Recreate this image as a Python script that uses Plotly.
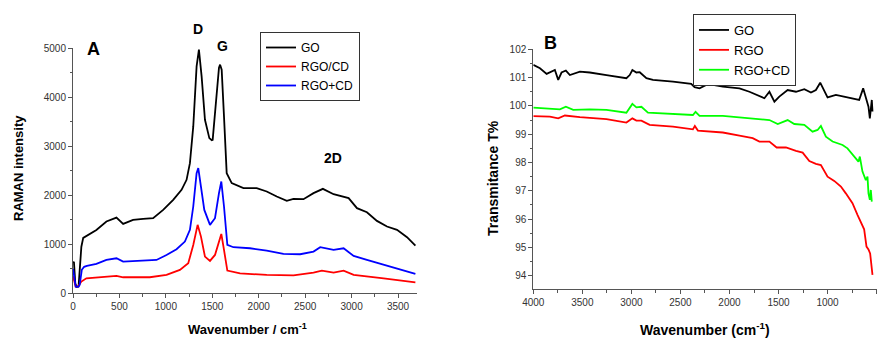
import plotly.graph_objects as go

# ---------------- Panel A: Raman ----------------
raman_go_x = [0, 10, 25, 40, 60, 75, 90, 110, 150, 252, 360, 468, 540, 647, 755, 863, 971, 1079,
              1169, 1223, 1259, 1295, 1331, 1356, 1385, 1421, 1468, 1494, 1504, 1540, 1572, 1584, 1601,
              1626, 1655, 1709, 1835, 1978, 2086, 2194, 2302, 2374, 2482, 2590, 2691, 2806, 2914,
              2968, 3058, 3165, 3273, 3381, 3489, 3597, 3687]
raman_go_y = [620, 640, 200, 130, 140, 600, 950, 1130, 1180, 1292, 1463, 1544, 1415, 1497, 1517, 1530,
              1700, 1905, 2109, 2313, 2653, 3401, 4626, 4966, 4422, 3537, 3163, 3122, 3129, 3946, 4600,
              4660, 4558, 3605, 2449, 2245, 2143, 2143, 2075, 1973, 1884, 1925, 1918, 2041, 2129,
              2020, 1973, 1939, 1735, 1653, 1476, 1361, 1293, 1143, 973]

raman_rgocd_x = [0, 15, 29, 55, 90, 144, 288, 468, 540, 827, 1007, 1151, 1241, 1295, 1342, 1378,
                 1421, 1475, 1529, 1572, 1597, 1626, 1662, 1799, 2086, 2374, 2590, 2680, 2806,
                 2914, 3022, 3345, 3687]
raman_rgocd_y = [350, 230, 136, 140, 238, 306, 327, 354, 327, 327, 374, 476, 612, 986, 1395, 1156,
                 748, 660, 782, 1088, 1211, 884, 463, 408, 374, 367, 422, 463, 422, 463, 374,
                 306, 224]

raman_rgopcd_x = [0, 15, 29, 55, 72, 95, 120, 150, 252, 360, 468, 540, 719, 899, 1007, 1115, 1205,
                  1259, 1295, 1331, 1349, 1378, 1414, 1475, 1529, 1572, 1597, 1626, 1662, 1727,
                  1906, 2086, 2266, 2446, 2590, 2662, 2806, 2914, 3022, 3165, 3345, 3525, 3687]
raman_rgopcd_y = [500, 250, 136, 130, 170, 480, 540, 560, 599, 680, 714, 646, 667, 680, 782, 898,
                  1054, 1293, 1769, 2449, 2551, 2177, 1700, 1395, 1530, 2041, 2279, 1769, 986,
                  939, 918, 871, 803, 796, 850, 939, 884, 918, 762, 680, 578, 490, 395]

raman_names = ["GO", "RGO/CD", "RGO+CD"]
raman_colors = ["#000000", "#ff0000", "#0000ff"]

# ---------------- Panel B: FTIR ----------------
ftir_go_x = [4000, 3932, 3864, 3814, 3780, 3746, 3712, 3668, 3627, 3525, 3424, 3254, 3051, 3017,
             2990, 2949, 2915, 2847, 2780, 2576, 2390, 2356, 2305, 2237, 2169, 2068, 1898, 1797,
             1695, 1644, 1593, 1542, 1492, 1407, 1322, 1237, 1169, 1119, 1075, 1051, 1000, 915,
             831, 746, 678, 637, 610, 583, 569, 549, 542]
ftir_go_y = [101.45, 101.33, 101.13, 101.21, 101.27, 100.92, 101.18, 101.25, 101.09, 101.21, 101.18,
             101.09, 100.98, 101.09, 101.27, 101.18, 101.19, 100.98, 100.92, 100.86, 100.78, 100.66,
             100.62, 100.74, 100.74, 100.68, 100.62, 100.50, 100.33, 100.27, 100.50, 100.15, 100.33,
             100.56, 100.50, 100.59, 100.47, 100.56, 100.82, 100.66, 100.30, 100.39, 100.33, 100.27,
             100.21, 100.62, 100.33, 99.97, 99.56, 100.21, 99.80]

ftir_rgo_x = [4000, 3831, 3746, 3678, 3525, 3254, 3051, 2990, 2949, 2898, 2814, 2576, 2373, 2353,
              2322, 2068, 1898, 1763, 1695, 1593, 1519, 1424, 1322, 1254, 1186, 1119, 1068, 1000,
              932, 864, 814, 746, 695, 651, 627, 603, 583, 566, 553, 542]
ftir_rgo_y = [99.64, 99.62, 99.56, 99.66, 99.60, 99.53, 99.41, 99.56, 99.48, 99.48, 99.33, 99.27,
              99.17, 99.29, 99.13, 99.06, 98.95, 98.86, 98.74, 98.74, 98.53, 98.53, 98.41, 98.35,
              98.05, 97.95, 97.91, 97.50, 97.35, 97.15, 96.91, 96.56, 96.15, 95.79, 95.64, 95.03,
              94.93, 94.79, 94.44, 94.03]

ftir_rgopcd_x = [4000, 3831, 3729, 3668, 3593, 3424, 3254, 3051, 2990, 2949, 2898, 2831, 2576, 2373,
                 2346, 2305, 2068, 1898, 1729, 1593, 1508, 1407, 1339, 1237, 1153, 1102, 1068, 1017,
                 949, 847, 797, 729, 685, 671, 644, 610, 593, 583, 569, 559, 549]
ftir_rgopcd_y = [99.94, 99.89, 99.88, 99.97, 99.86, 99.88, 99.86, 99.76, 100.07, 99.95, 99.97, 99.76,
                 99.71, 99.68, 99.79, 99.65, 99.65, 99.60, 99.55, 99.50, 99.36, 99.50, 99.36, 99.33,
                 99.09, 99.15, 99.29, 98.91, 98.74, 98.62, 98.50, 98.23, 98.03, 98.21, 97.68, 97.38,
                 97.50, 96.91, 96.68, 97.03, 96.62]

ftir_names = ["GO", "RGO", "RGO+CD"]
ftir_colors = ["#000000", "#ff0000", "#00ff00"]

FONT = "Liberation Sans, Arial, sans-serif"
W, H = 877, 338

fig = go.Figure()

for name, color, xs, ys in zip(raman_names, raman_colors,
                               [raman_go_x, raman_rgocd_x, raman_rgopcd_x],
                               [raman_go_y, raman_rgocd_y, raman_rgopcd_y]):
    fig.add_trace(go.Scatter(x=xs, y=ys, mode="lines", name=name,
                             line=dict(color=color, width=1.8),
                             xaxis="x", yaxis="y", legend="legend"))

for name, color, xs, ys in zip(ftir_names, ftir_colors,
                               [ftir_go_x, ftir_rgo_x, ftir_rgopcd_x],
                               [ftir_go_y, ftir_rgo_y, ftir_rgopcd_y]):
    fig.add_trace(go.Scatter(x=xs, y=ys, mode="lines", name=name,
                             line=dict(color=color, width=1.8),
                             xaxis="x2", yaxis="y2", legend="legend2"))

axis_common = dict(showline=True, linecolor="#555555", linewidth=1, ticks="outside",
                   ticklen=4, tickcolor="#555555", tickwidth=1, showgrid=False, zeroline=False,
                   automargin=False,
                   tickfont=dict(family=FONT, size=10, color="#333333"))
minor = dict(ticks="outside", ticklen=2.5, tickcolor="#555555", showgrid=False)

def px_x(p):
    return p / W

def px_y(p):
    return 1 - p / H

fig.update_layout(
    width=W, height=H,
    margin=dict(l=0, r=0, t=0, b=0, autoexpand=False),
    paper_bgcolor="white", plot_bgcolor="white",
    font=dict(family=FONT, color="#000000"),
    xaxis=dict(domain=[px_x(73), px_x(416.6)], range=[0, 3700], dtick=500, tick0=0,
               anchor="y", minor=dict(dtick=250, **minor), **axis_common),
    yaxis=dict(domain=[px_y(293.3), px_y(48)], range=[0, 5000], dtick=1000, tick0=0,
               anchor="x", minor=dict(dtick=500, **minor), **axis_common),
    xaxis2=dict(domain=[px_x(533.3), 1.0], range=[4000, 496], dtick=500, tick0=0,
                anchor="y2", minor=dict(dtick=250, **minor), **axis_common),
    yaxis2=dict(domain=[px_y(289.3), px_y(49.3)], range=[93.52, 102], dtick=1, tick0=94,
                anchor="x2", minor=dict(dtick=0.5, tick0=94, **minor), **axis_common),
    legend=dict(x=px_x(260), y=px_y(32), xanchor="left", yanchor="top",
                bordercolor="#333333", borderwidth=1, bgcolor="white",
                font=dict(family=FONT, size=12, color="#000000"), itemwidth=30,
                tracegroupgap=0),
    legend2=dict(x=px_x(693), y=px_y(14), xanchor="left", yanchor="top",
                 bordercolor="#333333", borderwidth=1, bgcolor="white",
                 font=dict(family=FONT, size=13, color="#000000"), itemwidth=30,
                 tracegroupgap=0),
)

def label(text, x, y, size, angle=0, bold=True):
    fig.add_annotation(text=f"<b>{text}</b>" if bold else text, x=px_x(x), y=px_y(y),
                       xref="paper", yref="paper", showarrow=False, textangle=angle,
                       xanchor="center", yanchor="middle",
                       font=dict(family=FONT, size=size, color="#000000"))

label("A", 93, 49, 18)
label("D", 198, 29, 14)
label("G", 222, 46, 14)
label("2D", 333, 158, 14)
label("B", 550, 43, 18)
label("RAMAN intensity", 18, 168, 13, angle=-90)
label("Wavenumber / cm<sup>-1</sup>", 248, 329, 13)
label("Transmitance T%", 493, 178, 14, angle=-90)
label("Wavenumber (cm<sup>-1</sup>)", 705, 329, 14)

fig.write_html("out.html", config={"displayModeBar": False},
               post_script="document.body.style.margin='0';document.body.style.overflow='hidden';")
